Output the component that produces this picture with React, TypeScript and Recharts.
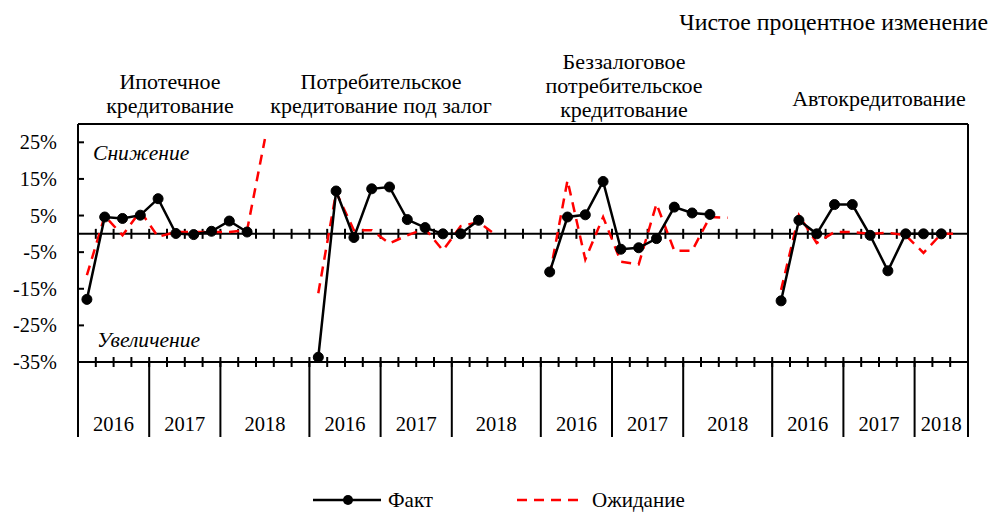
import React from "react";
import { LineChart, Line, XAxis, YAxis, ReferenceLine, Legend } from "recharts";

// net percentage change, quarterly 2016 Q1 .. 2018 Q3
const panelTitles = [
  ["Ипотечное", "кредитование"],
  ["Потребительское", "кредитование под залог"],
  ["Беззалоговое", "потребительское", "кредитование"],
  ["Автокредитование"],
];
const years = ["2016", "2017", "2018"];
const yearSlots = [
  [4, 4, 5],
  [4, 4, 5],
  [4, 4, 5],
  [4, 4, 3],
];

const faktMortgage = [-17.9, 4.6, 4.2, 5.1, 9.6, 0.1, -0.2, 0.7, 3.5, 0.5];
const faktSecured = [-33.7, 11.7, -1.0, 12.3, 12.8, 3.9, 1.7, 0, 0, 3.7];
const faktUnsecured = [-10.4, 4.6, 5.2, 14.3, -4.2, -3.8, -1.3, 7.3, 5.7, 5.3];
const faktAuto = [-18.3, 3.7, 0, 8.0, 8.0, -0.4, -10.1, 0, 0, 0];

const expMortgage = [-11.3, 4.9, -0.4, 6.2, -0.8, 0.5, 0.5, 0.5, 0.5, 1.0, 25.9];
const expSecured = [-16.2, 11.4, 1.0, 1.0, -2.6, -0.4, 1.4, -4.5, 2.1, 3.2, -0.4];
const expUnsecured = [-11.3, 14.6, -7.0, 4.6, -7.6, -8.3, 8.2, -4.6, -4.6, 4.6, 4.4];
const expAuto = [-15.3, 5.1, -2.5, 0.5, 0.5, 0, 0.3, -0.4, -5.2, 0, 0];

const yTicks = [25, 15, 5, -5, -15, -25, -35];

const fakt = [faktMortgage, faktSecured, faktUnsecured, faktAuto];
const exp = [expMortgage, expSecured, expUnsecured, expAuto];

const W = 991;
const H = 513;
const LEFT = 78;
const RIGHT = 23;
const TOP = 124;
const BOTTOM = 362;
const FONT = '"Liberation Serif", "Times New Roman", serif';

// build slot table
const panelStart: number[] = [];
let total = 0;
yearSlots.forEach((ys) => {
  panelStart.push(total);
  total += ys.reduce((a, b) => a + b, 0);
});
const rows: { x: number; fakt: number | null; exp: number | null }[] = [];
for (let i = 0; i < total; i++) rows.push({ x: i + 0.5, fakt: null, exp: null });
panelStart.forEach((s, p) => {
  fakt[p].forEach((v, i) => (rows[s + i].fakt = v));
  exp[p].forEach((v, i) => (rows[s + i].exp = v));
});

const boundaries: number[] = [];
const yearLabels: { at: number; span: number; label: string }[] = [];
panelStart.forEach((s, p) => {
  let pos = s;
  yearSlots[p].forEach((n, k) => {
    boundaries.push(pos);
    yearLabels.push({ at: pos, span: n, label: years[k] });
    pos += n;
  });
});
boundaries.push(total);

const xTicks = Array.from({ length: total + 1 }, (_, i) => i);
const slotW = (W - LEFT - RIGHT) / total;

const XTick = (props: any) => {
  const { x, y, payload } = props;
  const v = payload.value;
  const yl = yearLabels.find((d) => d.at === v);
  return (
    <g>
      <line x1={x} x2={x} y1={y - 5} y2={y + 5} stroke="#000" strokeWidth={2} />
      {boundaries.includes(v) && (
        <line x1={x} x2={x} y1={y} y2={y + 75} stroke="#000" strokeWidth={2} />
      )}
      {yl && (
        <text
          x={x + (yl.span * slotW) / 2}
          y={y + 69}
          textAnchor="middle"
          fontFamily={FONT}
          fontSize={20.5}
          fill="#000"
        >
          {yl.label}
        </text>
      )}
    </g>
  );
};

const YTick = (props: any) => {
  const { x, y, payload } = props;
  return (
    <g>
      <line x1={x} x2={x + 6} y1={y} y2={y} stroke="#000" strokeWidth={2} />
      <text
        x={x - 21}
        y={y + 7}
        textAnchor="end"
        fontFamily={FONT}
        fontSize={20.3}
        fill="#000"
      >
        {payload.value}%
      </text>
    </g>
  );
};

const ZeroLine = (props: any) => {
  const { x1, x2, y1 } = props;
  const step = (x2 - x1) / total;
  return (
    <g>
      <line x1={x1} x2={x2} y1={y1} y2={y1} stroke="#000" strokeWidth={2} />
      {xTicks.map((i) => (
        <line
          key={i}
          x1={x1 + i * step}
          x2={x1 + i * step}
          y1={y1 - 5}
          y2={y1 + 5}
          stroke="#000"
          strokeWidth={2}
        />
      ))}
    </g>
  );
};

const LegendContent = () => (
  <div
    style={{
      display: "flex",
      alignItems: "center",
      fontFamily: FONT,
      fontSize: 21,
      lineHeight: "18px",
      height: 18,
      color: "#000",
    }}
  >
    <svg width={70} height={12} style={{ marginLeft: 313 }}>
      <line x1={0} x2={68} y1={6} y2={6} stroke="#000" strokeWidth={2.5} />
      <circle cx={35} cy={6} r={5} fill="#000" />
    </svg>
    <span style={{ marginLeft: 5 }}>Факт</span>
    <svg width={66} height={12} style={{ marginLeft: 84 }}>
      <line
        x1={0}
        x2={64}
        y1={6}
        y2={6}
        stroke="#ff0000"
        strokeWidth={2.5}
        strokeDasharray="10 7"
      />
    </svg>
    <span style={{ marginLeft: 9 }}>Ожидание</span>
  </div>
);

const abs = (left: number, top: number, size: number, extra: React.CSSProperties = {}) =>
  ({
    position: "absolute",
    left,
    top,
    fontFamily: FONT,
    fontSize: size,
    lineHeight: "24px",
    color: "#000",
    whiteSpace: "nowrap",
    ...extra,
  }) as React.CSSProperties;

const titlePos = [
  { cx: 170, top: 70 },
  { cx: 381, top: 70 },
  { cx: 624, top: 50 },
  { cx: 879, top: 87 },
];

export default function App() {
  return (
    <div
      style={{
        position: "absolute",
        left: 0,
        top: 0,
        width: W,
        height: H,
        background: "#fff",
      }}
    >
      <LineChart
        width={W}
        height={H}
        data={rows}
        margin={{ top: TOP, right: RIGHT, left: 8, bottom: H - BOTTOM - 80 }}
      >
        <XAxis
          type="number"
          dataKey="x"
          domain={[0, total]}
          ticks={xTicks}
          interval={0}
          height={80}
          tickSize={0}
          tickMargin={0}
          axisLine={{ stroke: "#000", strokeWidth: 2 }}
          tickLine={false}
          tick={<XTick />}
        />
        <YAxis
          type="number"
          domain={[-35, 30]}
          ticks={yTicks}
          interval={0}
          width={70}
          tickSize={0}
          tickMargin={0}
          axisLine={{ stroke: "#000", strokeWidth: 2 }}
          tickLine={false}
          tick={<YTick />}
        />
        <ReferenceLine y={30} stroke="#000" strokeWidth={2} />
        <ReferenceLine x={total} stroke="#000" strokeWidth={2} />
        <ReferenceLine y={0} shape={(p: any) => <ZeroLine {...p} />} />
        <Line
          dataKey="exp"
          name="Ожидание"
          stroke="#ff0000"
          strokeWidth={2.5}
          strokeDasharray="10 7"
          dot={false}
          activeDot={false}
          isAnimationActive={false}
        />
        <Line
          dataKey="fakt"
          name="Факт"
          stroke="#000"
          strokeWidth={2.5}
          dot={{ r: 5, fill: "#000", stroke: "#000", strokeWidth: 1 }}
          activeDot={false}
          isAnimationActive={false}
        />
        <Legend
          layout="horizontal"
          verticalAlign="middle"
          align="center"
          wrapperStyle={{ left: 0, top: 491, width: W }}
          content={<LegendContent />}
        />
      </LineChart>

      <div style={abs(0, 10, 23.8, { left: undefined, right: 3 })}>
        Чистое процентное изменение
      </div>
      {panelTitles.map((lines, i) => (
        <div
          key={i}
          style={abs(titlePos[i].cx - 150, titlePos[i].top, 22, {
            width: 300,
            textAlign: "center",
          })}
        >
          {lines.map((l) => (
            <div key={l}>{l}</div>
          ))}
        </div>
      ))}
      <div style={abs(93, 141, 21.6, { fontStyle: "italic" })}>Снижение</div>
      <div style={abs(97, 328, 21.6, { fontStyle: "italic" })}>Увеличение</div>
    </div>
  );
}
